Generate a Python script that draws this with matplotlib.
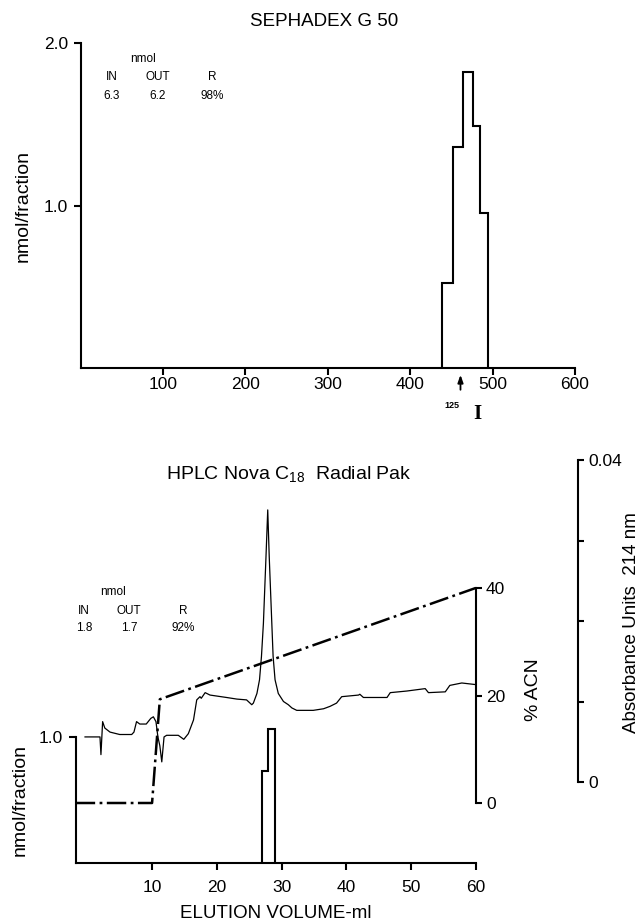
import matplotlib
matplotlib.use("Agg")
import matplotlib.pyplot as plt
from matplotlib import transforms

plt.rcParams['font.family'] = ['Liberation Sans', 'DejaVu Sans']
plt.rcParams['mathtext.fontset'] = 'custom'
plt.rcParams['mathtext.rm'] = 'Liberation Sans'
plt.rcParams['lines.scale_dashes'] = False

# ---------------- data ----------------
# Sephadex G 50 histogram (elution volume edges, nmol/fraction)
seph_edges = [439, 451.5, 464, 476.5, 485, 494]
seph_vals = [0.523, 1.364, 1.825, 1.49, 0.954]
seph_ticks = [100, 200, 300, 400, 500, 600]
seph_marker_x = 461  # 125I marker arrow

# HPLC histogram (ml edges, nmol/fraction)
hplc_edges = [27.06, 27.9, 29.0]
hplc_vals = [0.73, 1.06]
hplc_ticks = [10, 20, 30, 40, 50, 60]

# Gradient (% ACN)
acn_x = [-1.8, 10.0, 11.2, 60.0]
acn_y = [0, 0, 19.3, 40]

# Absorbance trace at 214 nm
abs_x = [-0.36, 1.95, 2.1, 2.36, 2.7, 3.5, 5.0, 6.85, 7.2, 7.6, 8.1, 9.1, 9.8,
         10.2, 10.6, 10.9, 11.2, 11.5, 11.85, 12.25, 14.05, 14.9, 15.6, 16.4,
         16.9, 17.4, 17.6, 18.2, 18.95, 21.5, 23.1, 24.6, 25.4, 25.65, 26.2,
         26.6, 26.9, 27.2, 27.6, 27.87, 28.1, 28.5, 28.7, 29.0, 29.5, 30.3,
         31.05, 31.6, 32.35, 33.4, 34.9, 36.5, 37.5, 38.5, 39.3, 41.9, 42.1,
         42.65, 46.3, 46.8, 49.35, 52.2, 52.7, 55.3, 56.0, 57.85, 60.0]
abs_y = [0.0056, 0.0056, 0.0034, 0.0075, 0.0067, 0.0062, 0.0059, 0.0059,
         0.0062, 0.0075, 0.0072, 0.0072, 0.0079, 0.0081, 0.0075, 0.0056,
         0.0045, 0.0025, 0.0056, 0.0058, 0.0058, 0.0053, 0.0060, 0.0077,
         0.0102, 0.0106, 0.0104, 0.0111, 0.0108, 0.0105, 0.0103, 0.0102,
         0.0096, 0.0098, 0.0110, 0.0127, 0.0156, 0.0197, 0.0280, 0.0338,
         0.0280, 0.0197, 0.0156, 0.0127, 0.0110, 0.0100, 0.0096, 0.0092,
         0.0089, 0.0089, 0.0089, 0.0091, 0.0094, 0.0098, 0.0106, 0.0108,
         0.0109, 0.0105, 0.0105, 0.0111, 0.0113, 0.0116, 0.0111, 0.0112,
         0.0120, 0.0123, 0.0121]

W, H = 641, 922
fig = plt.figure(figsize=(W / 100, H / 100), dpi=100)


def px_rect(x0, x1, ytop, ybot):
    return [x0 / W, 1 - ybot / H, (x1 - x0) / W, (ybot - ytop) / H]


def ftext(x, y, s, **kw):
    fig.text(x / W, 1 - y / H, s, ha=kw.pop('ha', 'center'),
             va=kw.pop('va', 'center'), **kw)


LW_AX = 1.5
TICK_FS = 12.5

# ---------------- top panel ----------------
ax1 = fig.add_axes(px_rect(80.7, 575, 43.3, 368.3))
ax1.stairs(seph_vals, seph_edges, color='black', lw=1.5)
ax1.set_xlim(0, 600)
ax1.set_ylim(0, 2.0)
for s in ['top', 'right']:
    ax1.spines[s].set_visible(False)
for s in ['left', 'bottom']:
    ax1.spines[s].set_linewidth(LW_AX)
ax1.set_xticks(seph_ticks)
ax1.set_xticklabels([str(t) for t in seph_ticks])
ax1.set_yticks([1.0, 2.0])
ax1.set_yticklabels(['1.0', '2.0'])
ax1.tick_params(axis='x', direction='out', length=5, width=LW_AX, pad=1.5,
                labelsize=TICK_FS)
ax1.tick_params(axis='y', direction='out', length=5, width=LW_AX, pad=4,
                labelsize=TICK_FS)
ax1.set_ylabel('nmol/fraction', fontsize=14, labelpad=9)

# 125I arrow
trans = transforms.blended_transform_factory(ax1.transData, ax1.transAxes)
ax1.annotate('', xy=(seph_marker_x, -0.02), xytext=(seph_marker_x, -0.066),
             xycoords=trans, textcoords=trans, annotation_clip=False,
             arrowprops=dict(arrowstyle='-|>,head_length=0.45,head_width=0.16',
                             color='black', lw=1.3, shrinkA=0, shrinkB=0))
ftext(452, 405, '125', fontsize=6.5, fontweight='bold')
ftext(477, 414, 'I', fontsize=15, fontweight='bold',
      family=['Liberation Serif', 'DejaVu Serif'])

ftext(324, 22, 'SEPHADEX G 50', fontsize=13.5)
ftext(143, 59, 'nmol', fontsize=8.5)
for x, a, b in [(112, 'IN', '6.3'), (158, 'OUT', '6.2'), (212, 'R', '98%')]:
    ftext(x, 77, a, fontsize=8.5)
    ftext(x, 96, b, fontsize=8.5)

# ---------------- bottom panel ----------------
X0, X1 = 75.7, 475.7
YTOP, YBOT = 460.0, 863.3
ax2 = fig.add_axes(px_rect(X0, X1, YTOP, YBOT))
ax2.set_xlim(-1.8, 60)
nmol_per_px = 1.0 / (YBOT - 736.7)
ax2.set_ylim(0, (YBOT - YTOP) * nmol_per_px)
ax2.stairs(hplc_vals, hplc_edges, color='black', lw=1.5)
for s in ['top', 'right']:
    ax2.spines[s].set_visible(False)
for s in ['left', 'bottom']:
    ax2.spines[s].set_linewidth(LW_AX)
ax2.spines['left'].set_bounds(0, 1.0)
ax2.set_xticks(hplc_ticks)
ax2.set_xticklabels([str(t) for t in hplc_ticks])
ax2.set_yticks([1.0])
ax2.set_yticklabels(['1.0'])
ax2.tick_params(axis='x', direction='out', length=5, width=LW_AX, pad=7,
                labelsize=TICK_FS)
ax2.tick_params(axis='y', direction='out', length=5, width=LW_AX, pad=4,
                labelsize=TICK_FS)
ax2.set_xlabel('ELUTION VOLUME-ml', fontsize=13.5, labelpad=7)

# % ACN axis
acn_zero, acn_px = 803.0, (803.0 - 588.0) / 40.0
ax3 = ax2.twinx()
ax3.set_ylim(-(YBOT - acn_zero) / acn_px, (acn_zero - YTOP) / acn_px)
ax3.plot(acn_x, acn_y, color='black', lw=1.8,
         dashes=(14, 3.2, 2.0, 3.2), dash_capstyle='butt')
for s in ['top', 'left', 'bottom']:
    ax3.spines[s].set_visible(False)
ax3.spines['right'].set_linewidth(LW_AX)
ax3.spines['right'].set_bounds(0, 40)
ax3.set_yticks([0, 20, 40])
ax3.set_yticklabels(['0', '20', '40'])
ax3.tick_params(axis='y', direction='out', length=4.5, width=LW_AX, pad=3,
                labelsize=TICK_FS)

# Absorbance axis
abs_zero, abs_px = 782.0, (782.0 - 460.0) / 0.04
ax4 = ax2.twinx()
ax4.set_ylim(-(YBOT - abs_zero) / abs_px, (abs_zero - YTOP) / abs_px)
ax4.plot(abs_x, abs_y, color='black', lw=0.9)
for s in ['top', 'left', 'bottom']:
    ax4.spines[s].set_visible(False)
ax4.spines['right'].set_position(('axes', (578 - X0) / (X1 - X0)))
ax4.spines['right'].set_linewidth(LW_AX)
ax4.spines['right'].set_bounds(0, 0.04)
ax4.set_yticks([0, 0.01, 0.02, 0.03, 0.04])
ax4.set_yticklabels(['0', '', '', '', '0.04'])
ax4.tick_params(axis='y', direction='out', length=4.5, width=LW_AX, pad=3,
                labelsize=TICK_FS)

ftext(289, 475, r'HPLC Nova C$_{\mathrm{18}}$  Radial Pak', fontsize=14)
ftext(20, 800, 'nmol/fraction', fontsize=14, rotation=90)
ftext(533, 690, '% ACN', fontsize=14, rotation=90)
ftext(632, 623, 'Absorbance Units  214 nm', fontsize=13.5, rotation=90)
ftext(113, 592, 'nmol', fontsize=8.5)
for x, a, b in [(84, 'IN', '1.8'), (129, 'OUT', '1.7'), (183, 'R', '92%')]:
    ftext(x, 611, a, fontsize=8.5)
    ftext(x, 628, b, fontsize=8.5)

fig.savefig('out.png', dpi=100)
